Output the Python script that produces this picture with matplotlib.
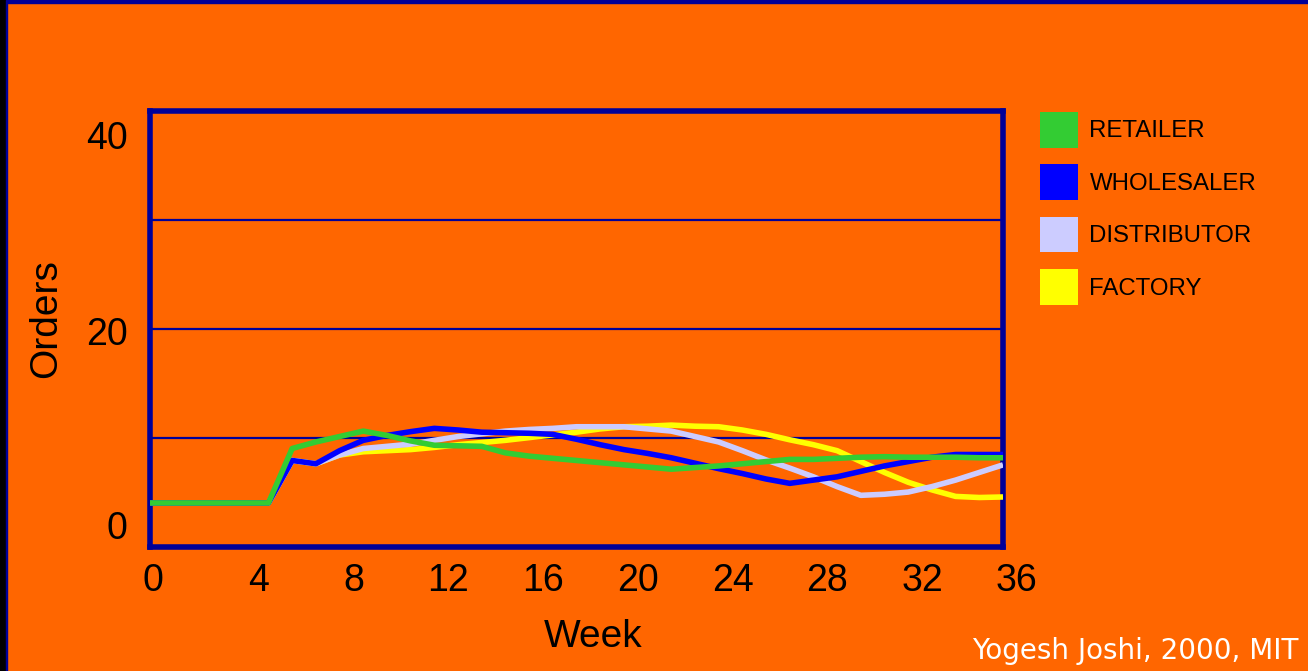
"""Beer game order oscillation chart (slide style)."""
import matplotlib
matplotlib.use('Agg')
import matplotlib.pyplot as plt
import matplotlib.patches as mpatches
from matplotlib.transforms import ScaledTranslation

plt.rcParams['font.family'] = ['Liberation Sans', 'DejaVu Sans']

# ── Data ────────────────────────────────────────────────────────────
weeks = list(range(37))
retailer = [4, 4, 4, 4, 4, 4, 9.0, 9.6, 10.1, 10.6, 10.2, 9.7, 9.3, 9.25, 9.2,
            8.6, 8.3, 8.1, 7.9, 7.7, 7.5, 7.3, 7.1, 7.25, 7.4, 7.6, 7.8, 8.0,
            8.0, 8.1, 8.2, 8.25, 8.2, 8.2, 8.2, 8.15, 8.15]
wholesaler = [4, 4, 4, 4, 4, 4, 7.9, 7.6, 8.8, 9.75, 10.2, 10.55, 10.85, 10.7,
              10.5, 10.45, 10.4, 10.3, 9.85, 9.35, 8.9, 8.55, 8.15, 7.65, 7.15,
              6.7, 6.2, 5.8, 6.1, 6.4, 6.9, 7.4, 7.8, 8.2, 8.45, 8.45, 8.45]
distributor = [4, 4, 4, 4, 4, 4, 7.9, 7.6, 8.4, 9.0, 9.2, 9.4, 9.75, 10.1, 10.35,
               10.6, 10.75, 10.85, 11.0, 11.0, 11.0, 10.8, 10.6, 10.1, 9.6, 8.8,
               7.95, 7.2, 6.4, 5.5, 4.7, 4.8, 5.0, 5.5, 6.1, 6.8, 7.5]
factory = [4, 4, 4, 4, 4, 4, 7.9, 7.6, 8.4, 8.7, 8.8, 8.9, 9.1, 9.35, 9.55, 9.75,
           10.0, 10.25, 10.5, 10.8, 11.0, 11.05, 11.15, 11.05, 11.0, 10.7, 10.3,
           9.8, 9.35, 8.8, 7.8, 6.8, 5.9, 5.2, 4.6, 4.5, 4.55]

series_names = ['RETAILER', 'WHOLESALER', 'DISTRIBUTOR', 'FACTORY']
x_ticks = [0, 4, 8, 12, 16, 20, 24, 28, 32, 36]
y_ticks = [0, 20, 40]
grid_levels = [10, 20, 30]

# ── Style ───────────────────────────────────────────────────────────
BG = '#FF6600'
NAVY = '#000099'
COLORS = {
    'RETAILER': '#33CC33',
    'WHOLESALER': '#0000FF',
    'DISTRIBUTOR': '#CCCCFF',
    'FACTORY': '#FFFF00',
}
ZORDER = {'FACTORY': 3, 'DISTRIBUTOR': 4, 'WHOLESALER': 5, 'RETAILER': 6}

W, H = 1308, 671
fig = plt.figure(figsize=(W / 100, H / 100), dpi=100, facecolor=BG)
ax = fig.add_axes([150 / W, 1 - 546.5 / H, 853 / W, 435.5 / H])
ax.set_facecolor(BG)

# slide edge strips
fig.patches.append(mpatches.Rectangle((0, 1 - 3 / H), 1, 3 / H,
                                      transform=fig.transFigure, color=NAVY, zorder=0))
fig.patches.append(mpatches.Rectangle((0, 0), 6 / W, 1,
                                      transform=fig.transFigure, color='black', zorder=0))
fig.patches.append(mpatches.Rectangle((6 / W, 0), 1.2 / W, 1,
                                      transform=fig.transFigure, color=NAVY, zorder=0))

for lvl in grid_levels:
    ax.axhline(lvl, color=NAVY, lw=1.6, zorder=1)

all_series = {'RETAILER': retailer, 'WHOLESALER': wholesaler,
              'DISTRIBUTOR': distributor, 'FACTORY': factory}
for name in series_names:
    ax.plot(weeks, all_series[name], color=COLORS[name], lw=4,
            solid_joinstyle='round', solid_capstyle='butt', zorder=ZORDER[name])

ax.set_xlim(0, 36)
ax.set_ylim(0, 40)
for spine in ax.spines.values():
    spine.set_edgecolor(NAVY)
    spine.set_linewidth(4)

ax.set_xticks(x_ticks)
ax.set_xticklabels([str(t) for t in x_ticks])
ax.set_yticks(y_ticks)
ax.set_yticklabels([str(t) for t in y_ticks])
ax.tick_params(axis='x', length=0, pad=12, labelsize=27, colors='black')
ax.tick_params(axis='y', length=0, pad=16, labelsize=27, colors='black')

# slide labels sit slightly off the true tick positions
for i, lab in enumerate(ax.get_xticklabels()):
    dx = 2 if i == 0 else 10
    lab.set_transform(lab.get_transform() + ScaledTranslation(dx / 72, 0, fig.dpi_scale_trans))
ydx = {0: 15.5, 1: -1.5, 2: -17.6}
for i, lab in enumerate(ax.get_yticklabels()):
    lab.set_transform(lab.get_transform() + ScaledTranslation(0, ydx[i] / 72, fig.dpi_scale_trans))

ax.set_xlabel('Week', fontsize=28, va='center')
ax.xaxis.set_label_coords(0.519, -0.207)
ax.set_ylabel('Orders', fontsize=28, va='center')
ax.yaxis.set_label_coords(-0.1222, 0.523)

handles = [mpatches.Patch(facecolor=COLORS[n], edgecolor='none', label=n)
           for n in series_names]
fig.legend(handles=handles, loc='upper left',
           bbox_to_anchor=(1040 / W, 1 - 112 / H), bbox_transform=fig.transFigure,
           frameon=False, fontsize=17.3, handlelength=1.58, handleheight=1.90,
           handletextpad=0.48, labelspacing=0.70, borderpad=0, borderaxespad=0)

fig.text(1298 / W, 1 - 659 / H, 'Yogesh Joshi, 2000, MIT', color='white',
         fontsize=20, ha='right', va='baseline', family='DejaVu Sans')

fig.savefig('out.png', dpi=100, facecolor=fig.get_facecolor())
